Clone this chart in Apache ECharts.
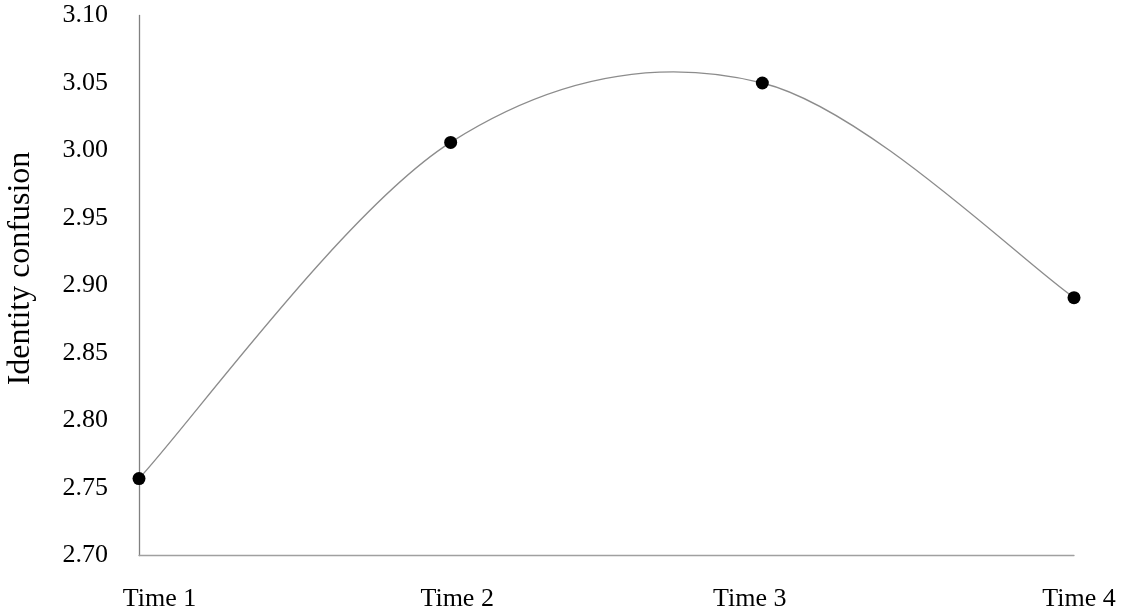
<!DOCTYPE html>
<html>
<head>
<meta charset="utf-8">
<script src="https://cdn.jsdelivr.net/npm/echarts@6/dist/echarts.min.js"></script>
<style>html,body{margin:0;padding:0;background:#fff;}#c{width:1122px;height:612px;}</style>
</head>
<body>
<div id="c"></div>
<script>
const categories = ['Time 1', 'Time 2', 'Time 3', 'Time 4'];
const identityConfusion = [2.757, 3.006, 3.050, 2.891];
const yTicks = { min: 2.70, max: 3.10, interval: 0.05 };

const chart = echarts.init(document.getElementById('c'), null, { renderer: 'canvas' });
const font = 'Liberation Serif';

// Excel-style smoothed curve (Catmull-Rom, tension 1/6) built from axis coordinates
function renderSegment(params, api) {
  const i = params.dataIndex;
  const n = identityConfusion.length;
  if (i >= n - 1) return null;
  const pt = k => {
    const j = Math.max(0, Math.min(n - 1, k));
    return api.coord([j, identityConfusion[j]]);
  };
  const p0 = pt(i - 1), p1 = pt(i), p2 = pt(i + 1), p3 = pt(i + 2);
  const c1 = [p1[0] + (p2[0] - p0[0]) / 6, p1[1] + (p2[1] - p0[1]) / 6];
  const c2 = [p2[0] - (p3[0] - p1[0]) / 6, p2[1] - (p3[1] - p1[1]) / 6];
  return {
    type: 'bezierCurve',
    shape: { x1: p1[0], y1: p1[1], x2: p2[0], y2: p2[1], cpx1: c1[0], cpy1: c1[1], cpx2: c2[0], cpy2: c2[1] },
    style: { stroke: '#8c8c8c', lineWidth: 1.3, fill: null }
  };
}

// label nudges (layout only) to mirror the reference placement
const labelRich = {
  s0: { padding: [0, 0, 0, 41] },
  s1: { padding: [0, 0, 0, 13] },
  s2: { padding: [0, 25, 0, 0] },
  s3: { padding: [0, 0, 0, 10] }
};
Object.values(labelRich).forEach(r => { r.fontFamily = font; r.fontSize = 26; r.color = '#000'; });

chart.setOption({
  animation: false,
  backgroundColor: '#fff',
  grid: { left: 139, right: 48, top: 15.5, bottom: 56.5, containLabel: false, outerBoundsMode: 'none' },
  xAxis: {
    type: 'category',
    data: categories,
    boundaryGap: false,
    axisLine: { lineStyle: { color: '#a0a0a0', width: 1.3 } },
    axisTick: { show: false },
    splitLine: { show: false },
    axisLabel: { color: '#000', fontFamily: font, fontSize: 26, margin: 31,
      formatter: (v, i) => '{s' + i + '|' + v + '}', rich: labelRich }
  },
  yAxis: {
    type: 'value',
    min: yTicks.min,
    max: yTicks.max,
    interval: yTicks.interval,
    name: 'Identity confusion',
    nameLocation: 'middle',
    nameRotate: 90,
    nameGap: 102,
    nameTextStyle: { color: '#000', fontFamily: font, fontSize: 32, padding: [0, 0, 0, 34] },
    axisLine: { show: true, lineStyle: { color: '#808080', width: 1.3 } },
    axisTick: { show: false },
    splitLine: { show: false },
    axisLabel: { color: '#000', fontFamily: font, fontSize: 26, margin: 31,
      formatter: v => v.toFixed(2) }
  },
  series: [{
    type: 'custom',
    renderItem: renderSegment,
    data: identityConfusion.map((v, i) => [i, v]),
    z: 1
  }, {
    type: 'line',
    data: identityConfusion,
    symbol: 'circle',
    symbolSize: 13,
    itemStyle: { color: '#000' },
    lineStyle: { width: 0, opacity: 0 },
    z: 2
  }]
});
</script>
</body>
</html>
